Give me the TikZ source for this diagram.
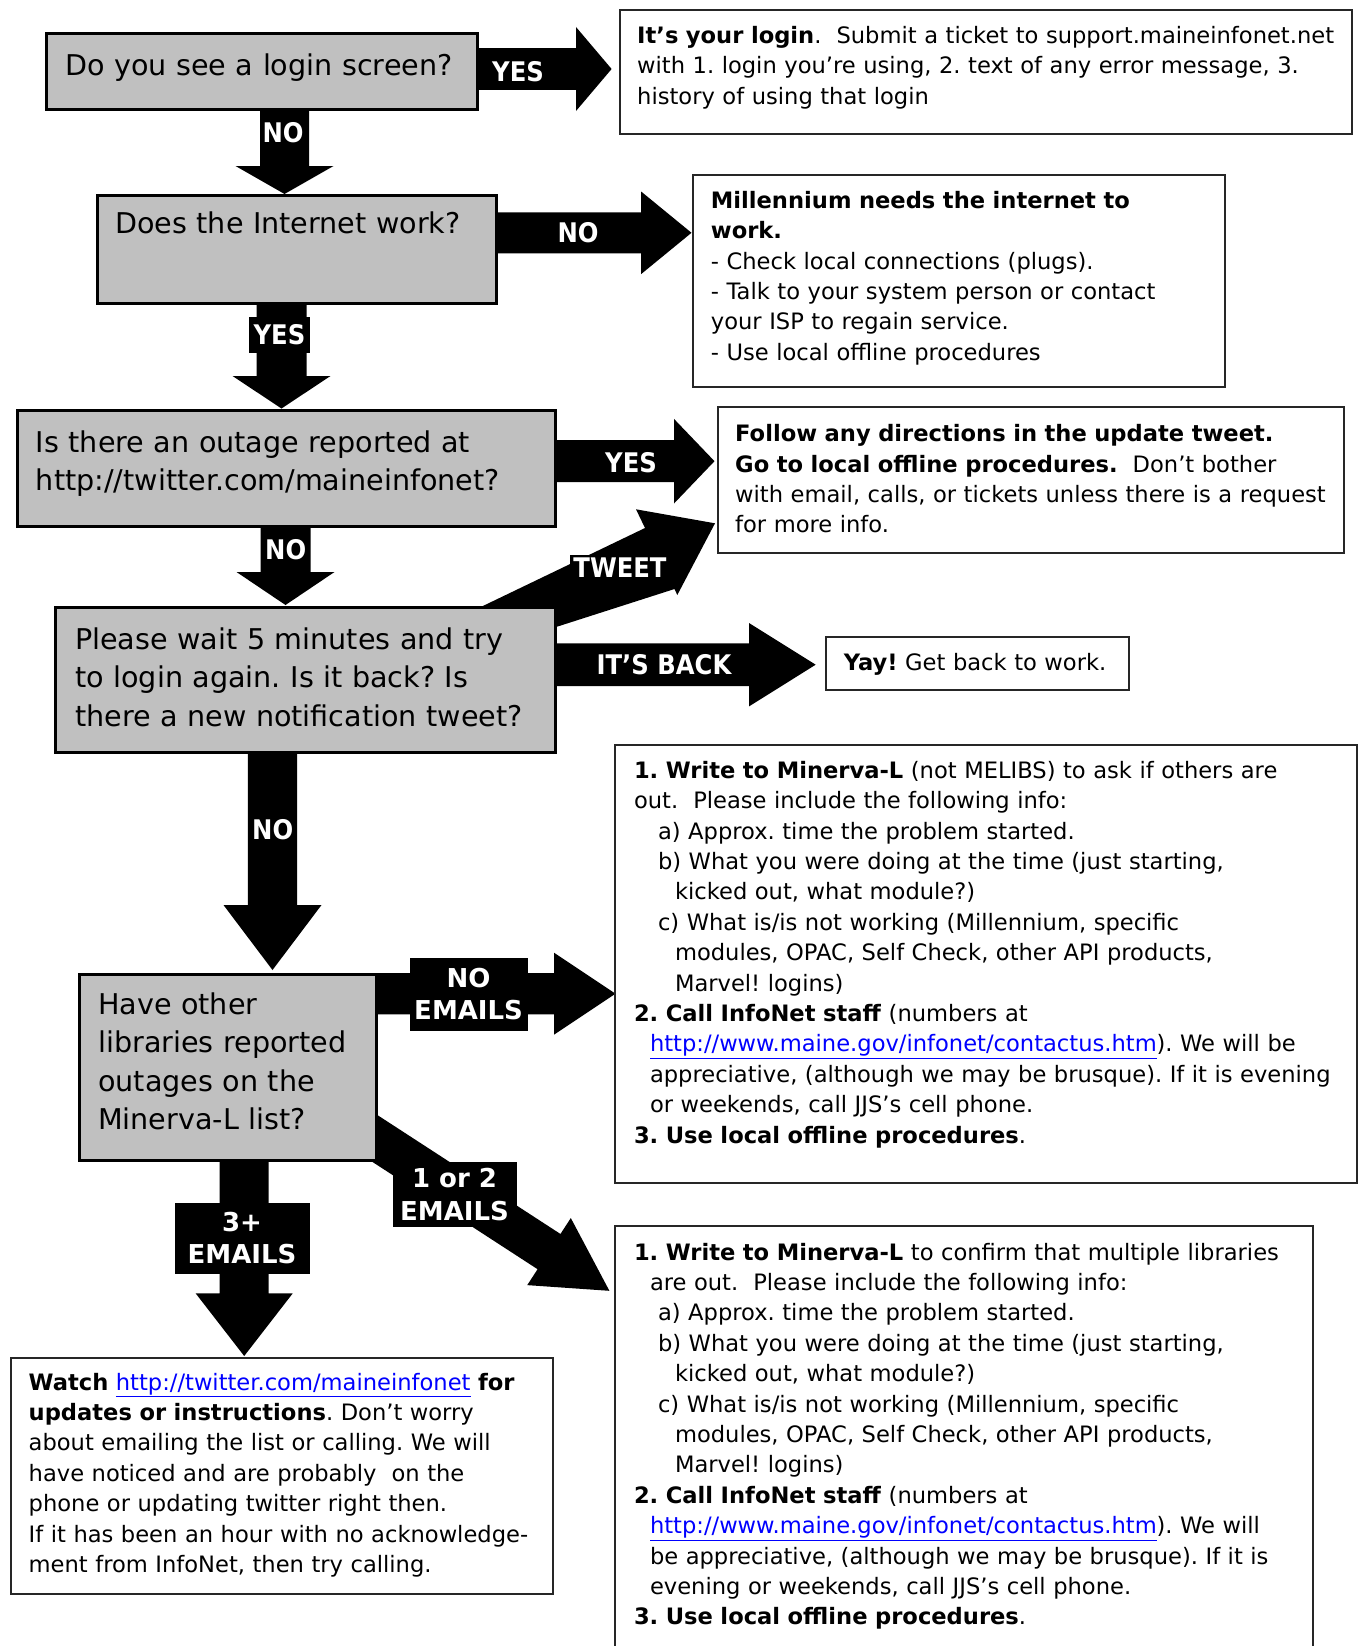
\documentclass[tikz,border=0pt]{standalone}
\usepackage{fontspec}
\setmainfont{DejaVu Sans}
\newfontfamily\condfont[FakeStretch=0.9]{DejaVu Sans}
\usepackage{xcolor}
\usepackage{tikz}
\usetikzlibrary{calc,backgrounds}
\definecolor{boxgray}{HTML}{C0C0C0}
\definecolor{linkblue}{HTML}{0000FF}
\newcommand{\lnk}[1]{\textcolor{linkblue}{\underline{#1}}}
\frenchspacing

\begin{document}
\begin{tikzpicture}[x=1pt,y=-1pt,
  qbox/.style={draw=black,line width=2.8pt,fill=boxgray,anchor=north west,inner sep=0pt},
  abox/.style={draw=black!85,line width=1.8pt,fill=white,anchor=north west,inner sep=0pt},
  qtext/.style={anchor=base west,inner sep=0pt,align=left,text width=560pt,font=\fontsize{28.6}{38.5}\selectfont},
  atext/.style={anchor=base west,inner sep=0pt,align=left,text width=740pt,font=\fontsize{22.6}{30.4}\selectfont},
  tag/.style={fill=black,text=white,inner sep=3pt,font=\condfont\bfseries\fontsize{27}{30}\selectfont},
  etag/.style={fill=black,text=white,inner sep=0pt,align=center,font=\bfseries\fontsize{26}{32.5}\selectfont}]
  \def\barrow#1#2#3#4#5{%
    \coordinate (bc) at ($(#2)!#5!(#1)$);
    \fill ($(#1)!#3!90:(#2)$) -- ($(bc)!#3!90:(#2)$) -- ($(bc)!#4!90:(#2)$) -- (#2)
      -- ($(bc)!#4!-90:(#2)$) -- ($(bc)!#3!-90:(#2)$) -- ($(#1)!#3!-90:(#2)$) -- cycle;}
  \useasboundingbox (0,0) rectangle (1358,1646);

  % question boxes
  \node [qbox,minimum width=431pt,minimum height=76pt] (q1) at (45,32) {};
  \node [qbox,minimum width=399pt,minimum height=108pt] (q2) at (96,194) {};
  \node [qbox,minimum width=538pt,minimum height=116pt] (q3) at (16,409) {};
  \node [qbox,minimum width=500pt,minimum height=145pt] (q4) at (54,606) {};
  \node [qbox,minimum width=297pt,minimum height=186pt] (q5) at (78,973) {};
  \node [qtext] (q1t) at (65,75) {Do you see a login screen?};
  \node [qtext] (q2t) at (115,233.3) {Does the Internet work?};
  \node [qtext] (q3t) at (35.7,452) {Is there an outage reported at\\http://twitter.com/maineinfonet?};
  \node [qtext] (q4t) at (75,649) {Please wait 5 minutes and try\\to login again. Is it back? Is\\there a new notification tweet?};
  \node [qtext] (q5t) at (98,1014) {Have other\\libraries reported\\outages on the\\Minerva-L list?};

  % answer boxes
  \node [abox,minimum width=732pt,minimum height=124pt] (login) at (619,9) {};
  \node [abox,minimum width=532pt,minimum height=212pt] (mill) at (692,174) {};
  \node [abox,minimum width=626pt,minimum height=146pt] (follow) at (717,406) {};
  \node [abox,minimum width=303pt,minimum height=53pt] (yay) at (825,636) {};
  \node [abox,minimum width=742pt,minimum height=438pt] (mlist) at (614,744) {};
  \node [abox,minimum width=698pt,minimum height=500pt] (mconf) at (614,1225) {};
  \node [abox,minimum width=542pt,minimum height=236pt] (watch) at (10,1357) {};

  \node [atext] (logint) at (637,43.3) {\textbf{It's your login}.\ \ Submit a ticket to support.maineinfonet.net\\
    with 1. login you're using, 2. text of any error message, 3.\\
    history of using that login};
  \node [atext] (millt) at (710.7,208.3) {\textbf{Millennium needs the internet to}\\
    \textbf{work.}\\
    - Check local connections (plugs).\\
    - Talk to your system person or contact\\
    your ISP to regain service.\\
    - Use local offline procedures};
  \node [atext] (followt) at (735,441.7) {\textbf{Follow any directions in the update tweet.}\\
    \textbf{Go to local offline procedures.}\ \ Don't bother\\
    with email, calls, or tickets unless there is a request\\
    for more info.};
  \node [atext] (yayt) at (843.6,670) {\textbf{Yay!} Get back to work.};
  \node [atext] (mlistt) at (633.8,778.3) {\textbf{1. Write to Minerva-L} (not MELIBS) to ask if others are\\
    out.\ \ Please include the following info:\\
    \hspace*{24pt}a) Approx. time the problem started.\\
    \hspace*{24pt}b) What you were doing at the time (just starting,\\
    \hspace*{41pt}kicked out, what module?)\\
    \hspace*{24pt}c) What is/is not working (Millennium, specific\\
    \hspace*{41pt}modules, OPAC, Self Check, other API products,\\
    \hspace*{41pt}Marvel! logins)\\
    \textbf{2. Call InfoNet staff} (numbers at\\
    \hspace*{16pt}\lnk{http://www.maine.gov/infonet/contactus.htm}). We will be\\
    \hspace*{16pt}appreciative, (although we may be brusque). If it is evening\\
    \hspace*{16pt}or weekends, call JJS's cell phone.\\
    \textbf{3. Use local offline procedures}.};
  \node [atext] (mconft) at (633.8,1260) {\textbf{1. Write to Minerva-L} to confirm that multiple libraries\\
    \hspace*{16pt}are out.\ \ Please include the following info:\\
    \hspace*{24pt}a) Approx. time the problem started.\\
    \hspace*{24pt}b) What you were doing at the time (just starting,\\
    \hspace*{41pt}kicked out, what module?)\\
    \hspace*{24pt}c) What is/is not working (Millennium, specific\\
    \hspace*{41pt}modules, OPAC, Self Check, other API products,\\
    \hspace*{41pt}Marvel! logins)\\
    \textbf{2. Call InfoNet staff} (numbers at\\
    \hspace*{16pt}\lnk{http://www.maine.gov/infonet/contactus.htm}). We will\\
    \hspace*{16pt}be appreciative, (although we may be brusque). If it is\\
    \hspace*{16pt}evening or weekends, call JJS's cell phone.\\
    \textbf{3. Use local offline procedures}.};
  \node [atext] (watcht) at (28.5,1390) {\textbf{Watch} \lnk{http://twitter.com/maineinfonet} \textbf{for}\\
    \textbf{updates or instructions}. Don't worry\\
    about emailing the list or calling. We will\\
    have noticed and are probably\ \ on the\\
    phone or updating twitter right then.\\
    If it has been an hour with no acknowledge-\\
    ment from InfoNet, then try calling.};

  % block arrows, behind the boxes
  \coordinate (s1) at (460,69);      \coordinate (t1) at (611.6,69);
  \coordinate (s2) at (284.5,95);    \coordinate (t2) at (284.5,194);
  \coordinate (s3) at (480,232.8);   \coordinate (t3) at (691.5,232.8);
  \coordinate (s4) at (281.5,290);   \coordinate (t4) at (281.5,408.5);
  \coordinate (s5) at (540,461.2);   \coordinate (t5) at (714.5,461.2);
  \coordinate (s6) at (285.5,515);   \coordinate (t6) at (285.5,605);
  \coordinate (t7) at (715,523.3);
  \coordinate (s8) at (540,664.7);   \coordinate (t8) at (815.7,664.7);
  \coordinate (s9) at (272.5,740);   \coordinate (t9) at (272.5,970);
  \coordinate (s10) at (360,993.7);  \coordinate (t10) at (615.5,993.7);
  \coordinate (s11) at (357.7,1127.3); \coordinate (t11) at (609.4,1290.8);
  \coordinate (s12) at (244.2,1150); \coordinate (t12) at (244.2,1356);
  \begin{scope}[on background layer]
    \barrow{s1}{t1}{20.8pt}{42pt}{35.6pt}
    \barrow{s2}{t2}{24.5pt}{49pt}{28pt}
    \barrow{s3}{t3}{20.5pt}{41.3pt}{50.4pt}
    \barrow{s4}{t4}{25pt}{49pt}{32.5pt}
    \barrow{s5}{t5}{21pt}{42.3pt}{40.5pt}
    \barrow{s6}{t6}{25pt}{49pt}{33pt}
    % the tweet arrow widens towards the box
    \fill (460,617) -- (645,528) -- (636,509.3) -- (t7) -- (677.3,595) -- (674.5,589) -- (500,645) -- cycle;
    \barrow{s8}{t8}{21.3pt}{41.7pt}{66.7pt}
    \barrow{s9}{t9}{24.6pt}{49pt}{65pt}
    \barrow{s10}{t10}{20.6pt}{41pt}{61.5pt}
    \barrow{s11}{t11}{21pt}{40pt}{72pt}
    \barrow{s12}{t12}{24.5pt}{48.5pt}{62.6pt}
  \end{scope}

  % arrow labels
  \node [tag] (yes1) at (518,71.7) {YES};
  \node [tag] (no1) at (283,133) {NO};
  \node [tag] (no2) at (578,233) {NO};
  \node [tag,minimum width=61pt,minimum height=36pt] (yes2) at (279.5,334.5) {YES};
  \node [tag] (yes3) at (631,463) {YES};
  \node [tag] (no3) at (285.7,550) {NO};
  \node [tag] (tweet) at (620,568) {TWEET};
  \node [tag] (back) at (664,665) {IT’S BACK};
  \node [tag] (no4) at (272.7,829.6) {NO};
  \node [etag,minimum width=118pt,minimum height=73pt] (noem) at (468.6,994) {NO\\EMAILS};
  \node [etag,minimum width=124pt,minimum height=65pt] (fewem) at (454.5,1194.5) {1 or 2\\EMAILS};
  \node [etag,minimum width=135pt,minimum height=71pt] (manyem) at (242,1238) {3+\\EMAILS};
\end{tikzpicture}
\end{document}
